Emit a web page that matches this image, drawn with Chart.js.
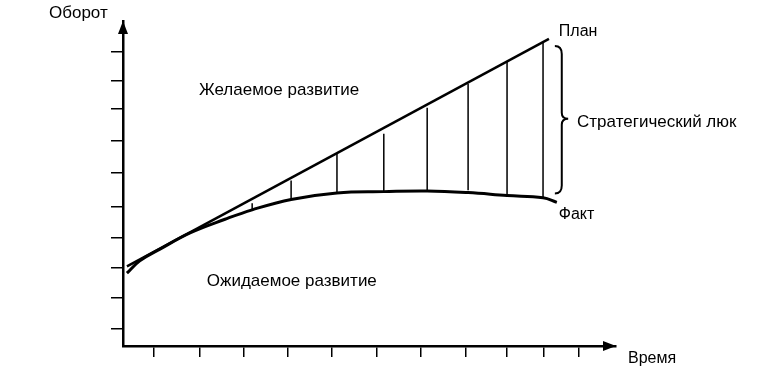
<!DOCTYPE html>
<html>
<head>
<meta charset="utf-8">
<script src="https://cdn.jsdelivr.net/npm/chart.js@4"></script>
<style>
  html, body { margin: 0; padding: 0; background: #fff; }
  #wrap { width: 764px; height: 390px; }
</style>
</head>
<body>
<div id="wrap"><canvas id="gap-chart" width="764" height="390"></canvas></div>
<script>
// Оси в условных единицах 0..100 (время / оборот)
const xTicks = [6.3, 15.6, 24.5, 33.5, 42.4, 51.5, 60.4, 69.6, 77.9, 85.4, 92.5];
const yTicks = [5.2, 15.0, 24.2, 33.4, 42.9, 53.4, 63.2, 73.0, 81.6, 90.5];

// План - прямая
const planX = [0.8, 86.4];
const planY = [24.5, 94.5];

// Факт - кривая
const factX = [0.8, 3.4, 7.5, 13.6, 20.7, 26.2, 34.1, 43.4, 52.9, 61.7, 70.0, 77.9, 85.2, 88.0];
const factY = [22.4, 26.2, 29.8, 34.8, 39.0, 41.9, 45.1, 47.1, 47.5, 47.7, 47.2, 46.3, 45.6, 44.2];

// Штриховка "стратегического люка": x, низ, верх
const hatchX = [26.2, 34.1, 43.4, 52.9, 61.7, 70.0, 77.9, 85.2];
const hatchLow = [41.9, 45.4, 47.2, 47.5, 47.9, 47.9, 46.3, 45.7];
const hatchHigh = [43.9, 50.9, 59.2, 65.3, 73.3, 80.7, 87.7, 93.3];

// Подписи внутри графика (левый край, базовая линия) в единицах осей
const notes = [
    { text: "Желаемое развитие", x: 15.4, y: 77.3, size: 17 },
    { text: "Ожидаемое развитие", x: 17.0, y: 18.4, size: 17 },
    { text: "План", x: 88.4, y: 95.4, size: 16 },
    { text: "Стратегический люк", x: 92.1, y: 67.5, size: 17 },
    { text: "Факт", x: 88.4, y: 39.0, size: 16 }
];

// Фигурная скобка
const brace = { xOut: 87.6, xMid: 89.0, xTip: 90.3, top: 92.3, mid: 69.9, bottom: 46.9 };

const FAMILY = '"Liberation Sans", Arial, sans-serif';

const hatchData = [];
hatchX.forEach((x, i) => {
    hatchData.push({ x: x, y: hatchLow[i] });
    hatchData.push({ x: x, y: hatchHigh[i] });
    hatchData.push({ x: x, y: null });
});

const extras = {
    id: 'extras',
    afterDraw(chart) {
        const ctx = chart.ctx;
        const xs = chart.scales.x;
        const ys = chart.scales.y;
        const area = chart.chartArea;
        ctx.save();
        ctx.fillStyle = '#000';
        ctx.strokeStyle = '#000';

        // стрелки осей
        ctx.beginPath();
        ctx.moveTo(area.right, area.bottom);
        ctx.lineTo(area.right - 13, area.bottom - 5);
        ctx.lineTo(area.right - 13, area.bottom + 5);
        ctx.closePath();
        ctx.fill();
        ctx.beginPath();
        ctx.moveTo(area.left, area.top);
        ctx.lineTo(area.left - 5, area.top + 13);
        ctx.lineTo(area.left + 5, area.top + 13);
        ctx.closePath();
        ctx.fill();

        // подписи
        ctx.textBaseline = 'alphabetic';
        ctx.textAlign = 'left';
        notes.forEach(n => {
            ctx.font = n.size + 'px ' + FAMILY;
            ctx.fillText(n.text, xs.getPixelForValue(n.x), ys.getPixelForValue(n.y));
        });
        ctx.font = '17px ' + FAMILY;
        ctx.fillText("Оборот", area.left - 74, area.top - 3);
        ctx.font = '16px ' + FAMILY;
        ctx.fillText("Время", area.right + 12, area.bottom + 17);

        // скобка
        const xo = xs.getPixelForValue(brace.xOut);
        const xm = xs.getPixelForValue(brace.xMid);
        const xt = xs.getPixelForValue(brace.xTip);
        const yt = ys.getPixelForValue(brace.top);
        const ym = ys.getPixelForValue(brace.mid);
        const yb = ys.getPixelForValue(brace.bottom);
        ctx.lineWidth = 2;
        ctx.beginPath();
        ctx.moveTo(xo, yt);
        ctx.quadraticCurveTo(xm, yt, xm, yt + 8);
        ctx.lineTo(xm, ym - 6);
        ctx.quadraticCurveTo(xm, ym, xt, ym);
        ctx.quadraticCurveTo(xm, ym, xm, ym + 6);
        ctx.lineTo(xm, yb - 8);
        ctx.quadraticCurveTo(xm, yb, xo, yb);
        ctx.stroke();
        ctx.restore();
    }
};

new Chart(document.getElementById('gap-chart'), {
    type: 'line',
    data: {
        datasets: [
            {
                label: 'План',
                data: planX.map((x, i) => ({ x: x, y: planY[i] })),
                borderColor: '#000',
                borderWidth: 2.5,
                pointRadius: 0
            },
            {
                label: 'Факт',
                data: factX.map((x, i) => ({ x: x, y: factY[i] })),
                borderColor: '#000',
                borderWidth: 3,
                pointRadius: 0,
                tension: 0.4
            },
            {
                label: 'люк',
                data: hatchData,
                borderColor: '#000',
                borderWidth: 1.5,
                pointRadius: 0,
                spanGaps: false
            }
        ]
    },
    options: {
        responsive: false,
        animation: false,
        layout: { padding: { top: 21, right: 148, bottom: 0, left: 0 } },
        plugins: {
            legend: { display: false },
            tooltip: { enabled: false }
        },
        scales: {
            x: {
                type: 'linear',
                min: 0,
                max: 100,
                afterBuildTicks: s => { s.ticks = xTicks.map(v => ({ value: v })); },
                afterFit: s => { s.height = 44; },
                ticks: { display: false },
                grid: { drawOnChartArea: false, drawTicks: true, tickLength: 11, color: '#000', lineWidth: 1.5 },
                border: { display: true, color: '#000', width: 2.5 }
            },
            y: {
                type: 'linear',
                min: 0,
                max: 100,
                afterBuildTicks: s => { s.ticks = yTicks.map(v => ({ value: v })); },
                afterFit: s => { s.width = 123; },
                ticks: { display: false },
                grid: { drawOnChartArea: false, drawTicks: true, tickLength: 12, color: '#000', lineWidth: 1.5 },
                border: { display: true, color: '#000', width: 2.5 }
            }
        }
    },
    plugins: [extras]
});
</script>
</body>
</html>
